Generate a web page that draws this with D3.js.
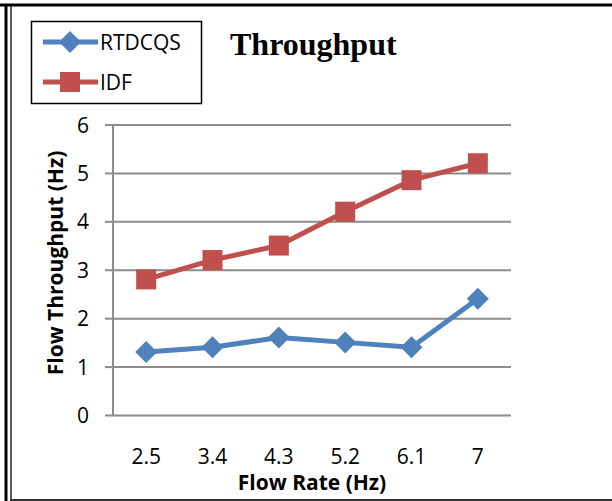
<!DOCTYPE html>
<html>
<head>
<meta charset="utf-8">
<script src="https://cdn.jsdelivr.net/npm/d3@7"></script>
<style>
  html, body { margin: 0; padding: 0; background: #fff; }
  svg { display: block; }
  text { font-family: "Open Sans", Lato, sans-serif; fill: #000; }
</style>
</head>
<body>
<div id="chart"></div>
<script>
// chart data
const categories = ["2.5", "3.4", "4.3", "5.2", "6.1", "7"];
const rtdcqs = [1.3, 1.4, 1.6, 1.5, 1.4, 2.4];
const idf = [2.8, 3.2, 3.5, 4.2, 4.85, 5.2];
const yTicks = [0, 1, 2, 3, 4, 5, 6];

const width = 612, height = 501;
const plot = { left: 113, right: 511, top: 124.5, bottom: 415 };
const font = "'Open Sans', Lato, sans-serif";

const svg = d3.select("#chart").append("svg")
    .attr("width", width)
    .attr("height", height);

// frame lines (top, double left, bottom)
svg.append("line").attr("x1", 0).attr("x2", width).attr("y1", 5).attr("y2", 5)
    .style("stroke", "#000").style("stroke-width", 3);
svg.append("line").attr("x1", 6).attr("x2", 6).attr("y1", 4).attr("y2", height)
    .style("stroke", "#000").style("stroke-width", 3);
svg.append("line").attr("x1", 11).attr("x2", 11).attr("y1", 6).attr("y2", height)
    .style("stroke", "#222").style("stroke-width", 1.5);
svg.append("line").attr("x1", 10).attr("x2", width).attr("y1", 500).attr("y2", 500)
    .style("stroke", "#333").style("stroke-width", 2);

var x = d3.scaleBand()
    .domain(categories)
    .range([plot.left, plot.right]);

var y = d3.scaleLinear()
    .domain([0, 6])
    .range([plot.bottom, plot.top]);

// gridlines + y ticks
var yAxis = svg.append("g")
    .attr("transform", "translate(" + plot.left + ",0)")
    .call(d3.axisLeft(y).tickValues(yTicks).tickFormat(d3.format("d")).tickSize(8).tickPadding(16))
yAxis.select(".domain").remove();
yAxis.selectAll(".tick line").clone()
    .attr("x2", plot.right - plot.left);
yAxis.selectAll(".tick line")
    .style("stroke", "#8c8c8c").style("stroke-width", 2);
yAxis.selectAll(".tick text")
    .style("font-size", "21px").style("font-family", font)
    .attr("dy", "0.36em");

// vertical axis line
svg.append("line")
    .attr("x1", plot.left).attr("x2", plot.left)
    .attr("y1", plot.top).attr("y2", plot.bottom)
    .style("stroke", "#8c8c8c").style("stroke-width", 2);

// x axis labels
var xAxis = svg.append("g")
    .attr("transform", "translate(0," + plot.bottom + ")")
    .call(d3.axisBottom(x).tickSize(0).tickPadding(0));
xAxis.select(".domain").remove();
xAxis.selectAll(".tick text")
    .attr("y", 49).attr("dy", 0)
    .style("font-size", "21px").style("font-family", font);

// axis titles
svg.append("text")
    .attr("x", 312).attr("y", 490)
    .attr("text-anchor", "middle")
    .style("font-size", "21px").style("font-weight", "bold")
    .text("Flow Rate (Hz)");

svg.append("text")
    .attr("transform", "translate(63,263) rotate(-90)")
    .attr("text-anchor", "middle")
    .style("font-size", "21px").style("font-weight", "bold")
    .text("Flow Throughput (Hz)");

// chart title
svg.append("text")
    .attr("x", 230).attr("y", 55)
    .style("font-family", "'Liberation Serif', 'Times New Roman', serif")
    .style("font-size", "32px").style("font-weight", "bold")
    .text("Throughput");

var line = d3.line()
    .x((d, i) => x(categories[i]) + x.bandwidth() / 2)
    .y(d => y(d));

var series = [
    { name: "RTDCQS", values: rtdcqs, color: "#4f81bd", marker: "diamond" },
    { name: "IDF", values: idf, color: "#c0504d", marker: "square" }
];

function drawMarker(g, type, color) {
    if (type == "square") {
        g.append("rect").attr("x", -10).attr("y", -10)
            .attr("width", 20).attr("height", 20)
            .style("fill", color);
    } else {
        g.append("path").attr("d", "M0,-11L11,0L0,11L-11,0Z")
            .style("fill", color);
    }
}

series.forEach(s => {
    svg.append("path")
        .datum(s.values)
        .attr("d", line)
        .style("fill", "none")
        .style("stroke", s.color)
        .style("stroke-width", 5)
        .style("stroke-linejoin", "round");

    s.values.forEach((v, i) => {
        var g = svg.append("g")
            .attr("transform", "translate(" + (x(categories[i]) + x.bandwidth() / 2) + "," + y(v) + ")");
        drawMarker(g, s.marker, s.color);
    });
});

// legend
var legend = svg.append("g");
legend.append("rect")
    .attr("x", 31.5).attr("y", 21.5)
    .attr("width", 170).attr("height", 82)
    .style("fill", "#fff").style("stroke", "#000").style("stroke-width", 1.5);

series.forEach((s, i) => {
    var ly = 42 + i * 40;
    legend.append("line")
        .attr("x1", 43).attr("x2", 98).attr("y1", ly).attr("y2", ly)
        .style("stroke", s.color).style("stroke-width", 5);
    var g = legend.append("g").attr("transform", "translate(70," + ly + ")");
    drawMarker(g, s.marker, s.color);
    legend.append("text")
        .attr("x", 100).attr("y", ly + 8)
        .style("font-size", "21px")
        .text(s.name);
});
</script>
</body>
</html>
